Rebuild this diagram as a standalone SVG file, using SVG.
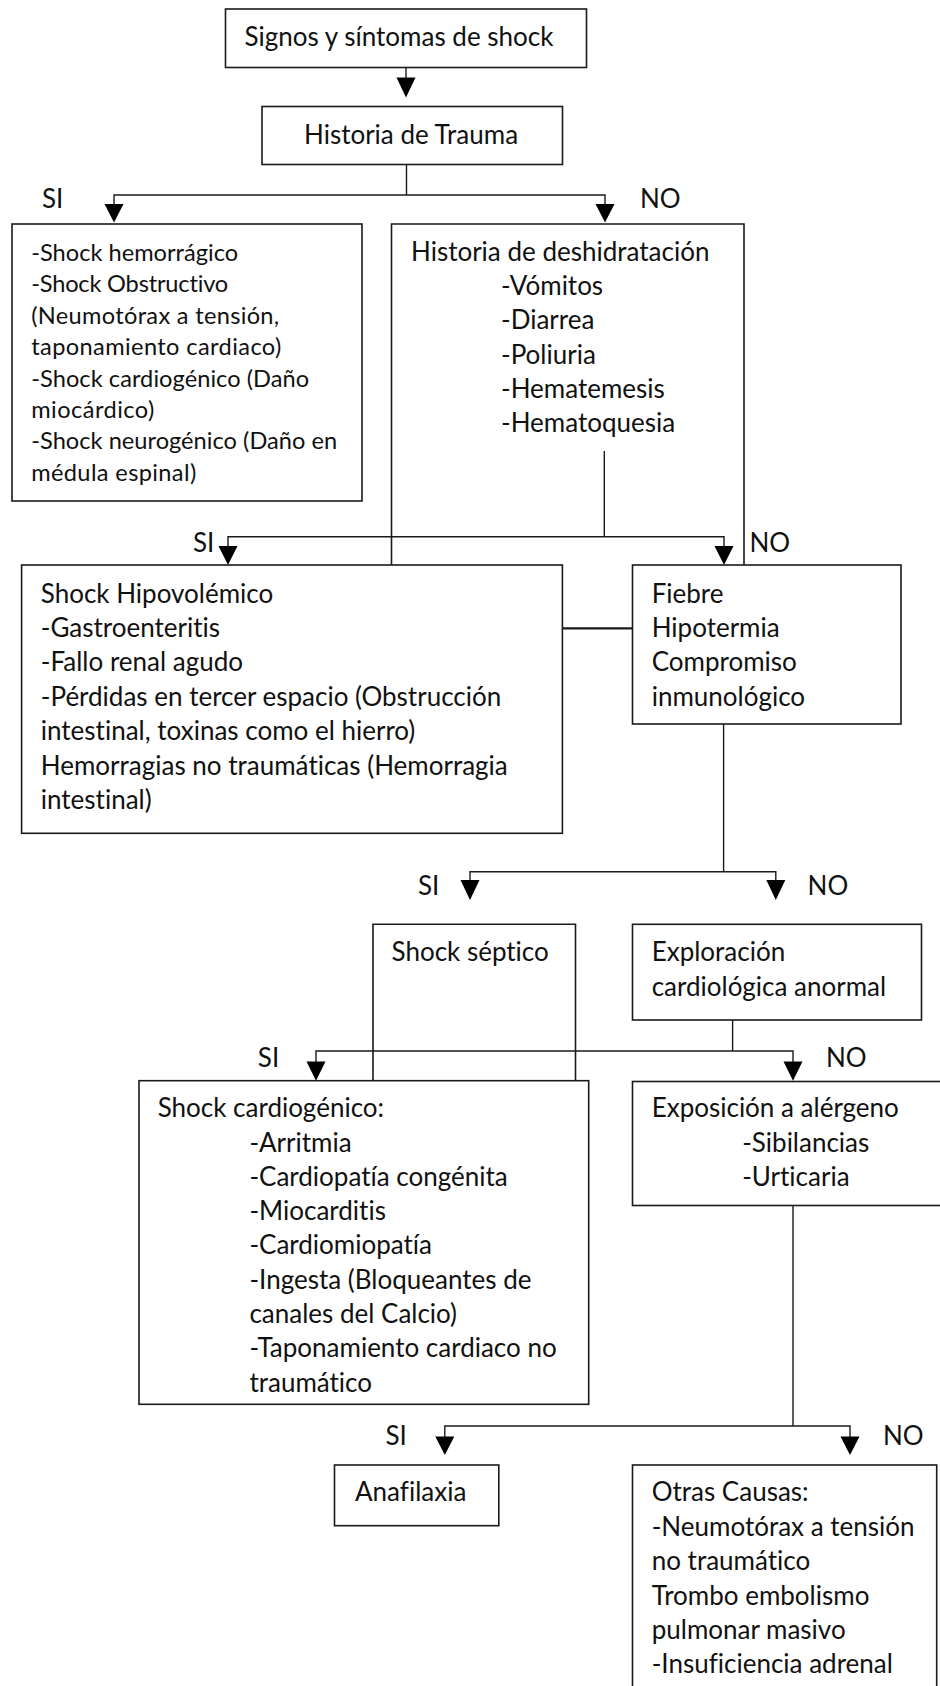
<svg xmlns="http://www.w3.org/2000/svg" width="940" height="1686" viewBox="0 0 940 1686">
<style>
.box{fill:#fff;stroke:#1a1a1a;stroke-width:1.6}
.open{fill:none;stroke:#1a1a1a;stroke-width:1.6}
.ln{fill:none;stroke:#1a1a1a;stroke-width:1.4}
.ah{fill:#000}
text{font-family:Lato,"Liberation Sans",sans-serif;font-size:26px;fill:#111;font-variant-ligatures:none}
.sm{font-size:23.6px}
</style>
<rect width="940" height="1686" fill="#fff"/>
<g id="connectors">
<path class="ln" d="M406,67.5V78"/>
<polygon class="ah" points="396.5,77.5 415.5,77.5 406,97.5"/>
<path class="ln" d="M406.5,164.5V195M114,205V195H605V205"/>
<polygon class="ah" points="104.5,204 123.5,204 114,222.5"/>
<polygon class="ah" points="595.5,204 614.5,204 605,222.5"/>
<text x="42" y="208">SI</text>
<text x="640" y="208">NO</text>
<path class="ln" d="M604.3,451V536.7M228,547V536.7H724V547"/>
<polygon class="ah" points="218.5,546 237.5,546 228,565"/>
<polygon class="ah" points="714.5,546 733.5,546 724,565"/>
<text x="193" y="552">SI</text>
<text x="749.4" y="552">NO</text>
<path class="ln" d="M562.4,628.3H632.5" style="stroke-width:2.2"/>
<path class="ln" d="M723.6,724V871.7M470,881V871.7H775.8V881"/>
<polygon class="ah" points="460.5,880 479.5,880 470,900"/>
<polygon class="ah" points="766.3,880 785.3,880 775.8,900"/>
<text x="418" y="895">SI</text>
<text x="807.6" y="895">NO</text>
<path class="ln" d="M732.6,1020V1051M316,1062V1051H793V1062"/>
<polygon class="ah" points="306.5,1061.5 325.5,1061.5 316,1080.7"/>
<polygon class="ah" points="783.5,1061.5 802.5,1061.5 793,1080.7"/>
<text x="257.8" y="1067">SI</text>
<text x="826" y="1067">NO</text>
<path class="ln" d="M793,1205.5V1426M444.8,1437V1426H850V1437"/>
<polygon class="ah" points="435.3,1436.5 454.3,1436.5 444.8,1455"/>
<polygon class="ah" points="840.5,1436.5 859.5,1436.5 850,1455"/>
<text x="385.5" y="1445">SI</text>
<text x="883" y="1445">NO</text>
</g>
<g id="n1">
<rect class="box" x="225.5" y="9" width="361" height="58.5"/>
<text x="244.6" y="46">Signos y síntomas de shock</text>
</g>
<g id="n2">
<rect class="box" x="262" y="106.5" width="300.5" height="58"/>
<text x="304" y="144">Historia de Trauma</text>
</g>
<g id="n3">
<rect class="box" x="12" y="224" width="350" height="277"/>
<text class="sm" x="31.2" y="261" textLength="207">-Shock hemorrágico</text>
<text class="sm" x="31.2" y="292.4" textLength="197">-Shock Obstructivo</text>
<text class="sm" x="31.2" y="323.8" textLength="248">(Neumotórax a tensión,</text>
<text class="sm" x="31.2" y="355.2" textLength="250">taponamiento cardiaco)</text>
<text class="sm" x="31.2" y="386.6" textLength="278">-Shock cardiogénico (Daño</text>
<text class="sm" x="31.2" y="418" textLength="123">miocárdico)</text>
<text class="sm" x="31.2" y="449.4" textLength="306">-Shock neurogénico (Daño en</text>
<text class="sm" x="31.2" y="480.8" textLength="165">médula espinal)</text>
</g>
<g id="n4">
<path class="open" d="M391.5,565V224H744V565"/>
<text x="411" y="261">Historia de deshidratación</text>
<text x="501" y="295.2">-Vómitos</text>
<text x="501" y="329.4">-Diarrea</text>
<text x="501" y="363.6">-Poliuria</text>
<text x="501" y="397.8">-Hematemesis</text>
<text x="501" y="432">-Hematoquesia</text>
</g>
<g id="n5">
<rect class="box" x="21.6" y="565" width="540.8" height="268.3"/>
<text x="40.8" y="602.5">Shock Hipovolémico</text>
<text x="40.8" y="636.9">-Gastroenteritis</text>
<text x="40.8" y="671.3">-Fallo renal agudo</text>
<text x="40.8" y="705.7">-Pérdidas en tercer espacio (Obstrucción</text>
<text x="40.8" y="740.1">intestinal, toxinas como el hierro)</text>
<text x="40.8" y="774.5">Hemorragias no traumáticas (Hemorragia</text>
<text x="40.8" y="808.9">intestinal)</text>
</g>
<g id="n6">
<rect class="box" x="632.5" y="565" width="268.5" height="159"/>
<text x="651.7" y="602.5">Fiebre</text>
<text x="651.7" y="636.9">Hipotermia</text>
<text x="651.7" y="671.3">Compromiso</text>
<text x="651.7" y="705.7">inmunológico</text>
</g>
<g id="n7">
<path class="open" d="M373,1080.7V924.3H575.5V1080.7"/>
<text x="391.5" y="961.3">Shock séptico</text>
</g>
<g id="n8">
<rect class="box" x="632.5" y="924.3" width="289" height="95.7"/>
<text x="651.7" y="961.3">Exploración</text>
<text x="651.7" y="995.5">cardiológica anormal</text>
</g>
<g id="n9">
<rect class="box" x="139" y="1080.7" width="449.7" height="323.6"/>
<text x="157.7" y="1117.3">Shock cardiogénico:</text>
<text x="249.4" y="1151.5">-Arritmia</text>
<text x="249.4" y="1185.8">-Cardiopatía congénita</text>
<text x="249.4" y="1220.1">-Miocarditis</text>
<text x="249.4" y="1254.4">-Cardiomiopatía</text>
<text x="249.4" y="1288.7">-Ingesta (Bloqueantes de</text>
<text x="249.4" y="1323">canales del Calcio)</text>
<text x="249.4" y="1357.3">-Taponamiento cardiaco no</text>
<text x="249.4" y="1391.6">traumático</text>
</g>
<g id="n10">
<rect class="box" x="632.5" y="1081.5" width="320" height="124"/>
<text x="651.7" y="1117.3">Exposición a alérgeno</text>
<text x="742.2" y="1151.5">-Sibilancias</text>
<text x="742.2" y="1185.8">-Urticaria</text>
</g>
<g id="n11">
<rect class="box" x="334.5" y="1465" width="164.3" height="60.7"/>
<text x="355" y="1501.3">Anafilaxia</text>
</g>
<g id="n12">
<rect class="box" x="632.5" y="1465" width="304.2" height="240"/>
<text x="651.7" y="1501.3">Otras Causas:</text>
<text x="651.7" y="1535.7">-Neumotórax a tensión</text>
<text x="651.7" y="1570.1">no traumático</text>
<text x="651.7" y="1604.5">Trombo embolismo</text>
<text x="651.7" y="1638.9">pulmonar masivo</text>
<text x="651.7" y="1673.3">-Insuficiencia adrenal</text>
</g>
</svg>
